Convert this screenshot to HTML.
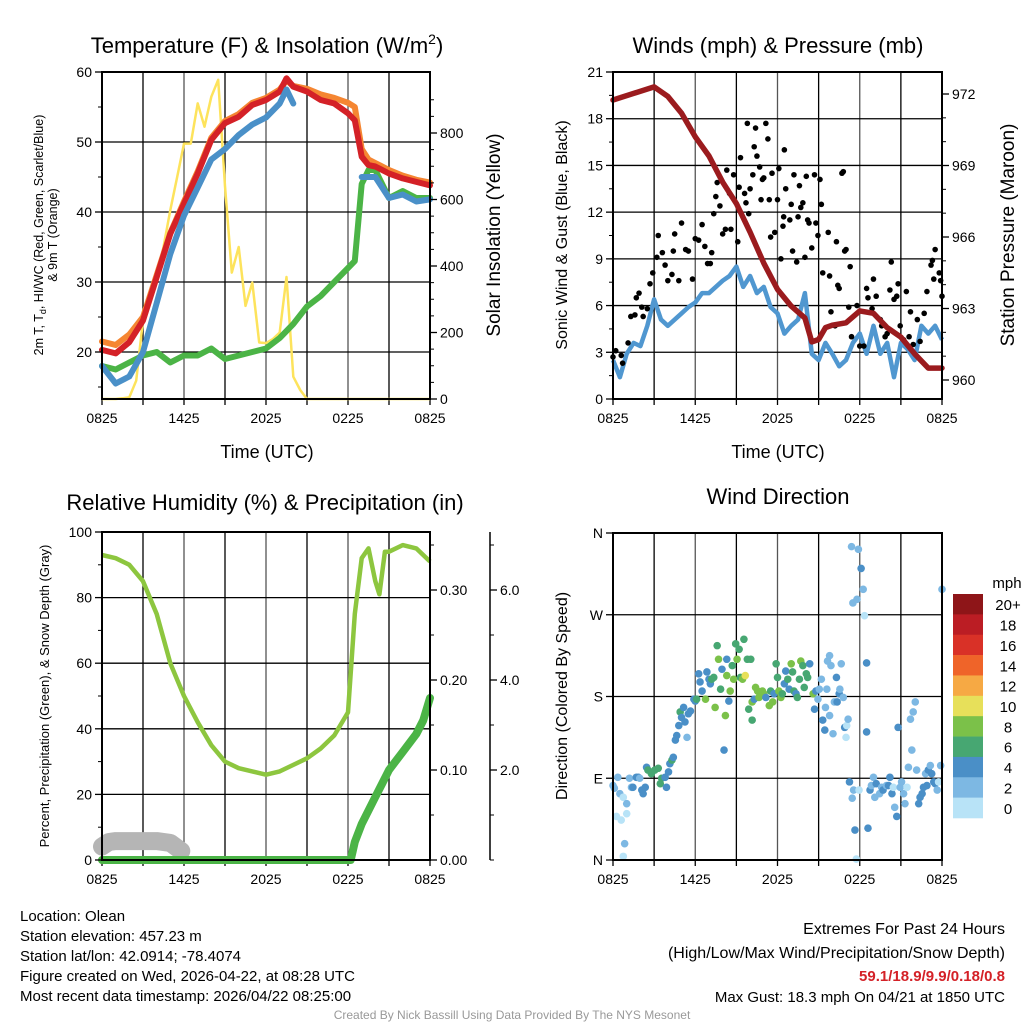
<!DOCTYPE html>
<html><head><meta charset="utf-8"><style>
body{margin:0;background:#fff;}
svg{display:block;font-family:"Liberation Sans",sans-serif;}
</style></head><body>
<svg id="c" width="1024" height="1024" viewBox="0 0 1024 1024" xmlns="http://www.w3.org/2000/svg">
<g id="layer"></g>
</svg>
<script>
// ---- data (hours since 0825 UTC) ----
const tHalf=[0,0.5,1,1.5,2,2.5,3,3.5,4,4.5,5,5.5,6,6.5,7,7.5,8,8.5,9,9.5,10,10.5,11,11.5,12,12.5,13,13.5,14,14.5,15,15.5,16,16.5,17,17.5,18,18.5,19,19.5,20,20.5,21,21.5,22,22.5,23,23.5,24];
const tHour=[0,1,2,3,4,5,6,7,8,9,10,11,12,13,13.5,14,15,16,17,18,18.5,19,19.5,20,21,22,23,24];
const tempRed=[20.3,19.8,21.4,24.5,30.7,36.9,41.2,45.5,50.3,52.7,53.6,55.3,56,57.2,59.1,57.9,57.2,56,55.5,54.1,53.1,47.9,46.7,46.5,45.5,44.8,44.3,43.8];
const tempOrange=[21.5,21,22.5,25,31,37,41.5,45.8,50.6,53,54,55.6,56.3,57.5,58.8,58,57.6,56.8,56.3,55.6,55,49,47.5,47,46,45.2,44.6,44.2];
const tempBlue=[18,15.5,16.5,20,27,34,39.5,43.5,47.5,49,51,52.5,53.5,55.5,57.5,55.5,null,null,null,null,null,45,45,45,42,42.5,41.5,41.8];
const tempGreen=[18,17.5,18.5,19.5,20,18.5,19.5,19.5,20.5,19,19.5,20,20.5,22,23,24,26.5,28,30,32,33,44,46,46,42,43,42,42];
const solar=[0,0,0,2,5,55,237,317,367,457,568,668,768,768,889,819,909,960,640,380,457,280,350,170,168,180,200,367,67,27,0,0,0,0,0,0,0,0,0,0,0,0,0,0,0,0,0,0,0];
const wind=[2.5,1.4,2.9,3.6,3.4,4.7,6.4,5.1,4.7,5.1,5.5,5.9,6.2,6.8,6.8,7.2,7.6,7.9,8.5,7.2,7.9,6.8,7.2,5.9,5.5,4.2,4.7,5.1,6.8,2.9,2.5,3.6,2.9,2.1,2.5,3.6,4.2,2.9,4.7,2.9,3.6,1.4,3.6,3.2,2.5,4.7,4.2,4.7,3.8];
const presT=[0,3,4,5,6,7,8,9,10,11,12,13,14,14.5,15,15.5,16,17,18,19,20,21,22,23,24];
const pres=[971.75,972.3,971.9,971.2,970.2,969.4,968.3,967.4,966.2,964.9,963.8,963.1,962.6,961.6,961.7,962.2,962.3,962.4,962.9,962.8,962.2,961.8,961.1,960.5,960.5];
const gustT=[0,0.2,0.6,0.7,1.1,1.3,1.6,1.7,1.9,2.1,2.2,2.5,2.7,2.9,3.2,3.3,3.6,3.8,4.0,4.3,4.4,4.5,4.8,5.0,5.3,5.5,5.8,6.0,6.25,6.5,6.7,6.9,7.1,7.2,7.35,7.5,7.6,7.8,8.0,8.2,8.3,8.5,8.6,8.8,9.1,9.2,9.3,9.6,9.7,9.8,9.9,10.0,10.2,10.3,10.4,10.5,10.7,10.8,10.9,11.0,11.15,11.3,11.4,11.5,11.6,11.8,12.0,12.1,12.25,12.4,12.45,12.5,12.6,12.9,13.0,13.1,13.2,13.4,13.5,13.6,13.7,13.85,14.0,14.1,14.2,14.3,14.5,14.7,14.8,14.95,15.1,15.2,15.3,15.7,15.8,15.9,16.2,16.3,16.4,16.5,16.7,16.8,16.9,17.0,17.2,17.3,17.4,17.8,18.0,18.3,18.5,18.6,18.9,19.0,19.2,19.5,19.6,19.85,20.0,20.2,20.3,20.5,20.7,20.8,20.95,21.2,21.4,21.6,21.7,21.9,22.2,22.4,22.7,22.9,23.2,23.3,23.4,23.5,23.8,23.9,24.0];
const gustV=[2.7,3.1,2.8,2.3,3.6,5.3,5.4,6.5,6.8,5.9,5.3,5.8,7.4,8.1,9.1,10.5,9.4,8.6,7.6,8,9.5,10.6,7.6,11.3,9.6,9.5,7.7,10.3,10.2,11.2,9.8,8.7,8.7,9.4,11.9,13,13.9,12.4,10.6,10.9,14.7,13.2,10.9,14.4,10.1,13.6,15.5,13.2,12.6,17.7,11.9,13.5,14.4,16.2,17.4,15.6,14.9,12.8,14.1,14.2,17.7,16.7,12.8,10.4,14.5,10.7,12.8,14.8,9,11.1,11.7,16,13.5,11.5,12.5,9.5,14.4,8.8,11.7,13.7,12.3,12.6,9.1,14.3,11.5,11.3,9.7,14.4,11.3,10.5,14.1,12.5,8.1,10.7,7.9,5.6,4.7,10.1,7.3,7.1,14.5,14.6,9.5,9.6,5.9,8.5,4,6,3.4,3.4,7.1,6.5,5.8,7.7,6.6,5.1,4.7,4,4.2,7,8.8,6.4,6.6,7.4,4.7,3.8,6.9,4,5.6,3.5,5.1,3.7,5.5,6.9,8.6,8.9,7.7,9.6,8.1,7.6,6.6];
const rhT=[0,1,2,3,4,5,6,7,8,9,10,11,12,13,14,15,16,17,18,18.5,19,19.5,20,20.3,20.7,21,22,23,24];
const rh=[93,92,90,85,75,60,50,42,35,30,28,27,26,27,29,31,34,38,45,75,92,95,85,81,94,94,96,95,91];
const precipT=[0,18.2,18.5,19,19.5,20,20.5,21,21.5,22,22.5,23,23.5,24];
const precip=[0,0,0.02,0.04,0.055,0.07,0.085,0.10,0.11,0.12,0.13,0.14,0.155,0.18];
const snowT=[0,0.5,1,2,3,4,5,5.8];
const snowV=[0.3,0.4,0.42,0.42,0.42,0.42,0.38,0.2];
const dirT=[0,0.1,0.35,0.5,0.75,1,0.25,0.6,1,0.85,0.75,1.2,1.35,1.45,1.7,1.85,1.95,2.1,2.2,2.35,2.45,2.55,2.8,3.05,3.3,3.45,3.55,3.8,3.9,4.05,4.15,4.3,4.4,4.55,4.65,4.8,4.9,5.0,5.15,5.25,5.4,5.5,5.65,5.9,6.0,6.1,6.25,6.35,6.5,6.75,6.85,7.0,7.1,7.2,7.35,7.45,7.6,7.7,7.85,7.95,8.1,8.2,8.3,8.3,8.45,8.55,8.7,8.8,8.95,9.05,9.2,9.3,9.45,9.55,9.65,9.8,9.9,10.05,10.15,10.15,10.3,10.4,10.55,10.65,10.9,11.0,11.15,11.4,11.5,11.65,11.75,11.9,12.0,12.1,12.25,12.35,12.5,12.6,12.75,12.85,13.0,13.1,13.2,13.35,13.45,13.6,13.7,13.85,13.95,14.1,14.2,14.35,14.6,14.7,14.8,14.95,15.05,15.2,15.3,15.45,15.5,15.6,15.65,15.8,15.9,16.05,16.15,16.3,16.35,16.5,16.55,16.65,16.8,16.9,17.0,17.05,17.15,17.25,17.4,17.5,17.45,17.65,17.55,17.75,17.8,17.95,18.1,17.9,18.25,18.35,18.5,18.5,18.6,18.75,18.85,19.0,19.1,19.2,19.45,19.6,19.7,19.95,20.1,20.2,20.35,20.45,20.55,20.7,20.8,20.95,21.05,21.2,21.3,21.45,21.55,21.7,21.8,21.9,22.05,22.15,22.3,22.4,22.55,22.65,22.8,22.9,23.0,23.15,23.25,23.4,23.5,23.65,23.75,23.9,24.0,15.8,17.25];
const dirD=[82,79,91,73,69,62,48,44,51,18,4,90,80,80,91,91,90,77,73,80,102,99,95,99,101,84,90,91,80,97,106,110,113,132,137,148,163,157,168,152,135,161,164,177,175,177,205,196,186,177,207,199,194,199,201,168,236,221,188,210,121,159,221,203,175,186,214,199,238,221,232,201,199,243,203,221,166,221,174,154,177,190,186,179,186,183,179,170,186,174,183,216,201,186,179,183,194,208,199,188,216,207,186,183,179,199,219,214,190,205,201,216,183,166,186,177,188,199,154,143,168,188,219,225,214,139,174,201,174,183,188,216,179,146,135,148,155,86,345,283,68,33,77,1,287,77,321,342,298,269,217,141,35,77,82,91,69,84,73,80,77,82,82,91,73,80,58,48,146,80,86,73,62,80,102,155,121,163,174,99,62,69,73,80,95,82,99,104,95,86,84,77,86,104,298,159];
const dirS=[3,3,3,3,1,3,1,1,1,3,1,3,3,5,5,5,3,5,5,5,5,7,7,7,7,7,7,5,5,5,5,7,5,5,5,5,7,5,5,5,3,5,5,5,5,7,5,5,5,9,5,5,5,7,7,9,7,9,7,5,5,9,5,9,5,9,7,9,7,9,7,7,9,7,11,7,7,7,9,7,5,9,9,9,9,9,5,9,7,9,5,7,7,9,9,7,5,5,7,5,9,7,7,5,7,7,9,7,7,7,7,5,9,5,5,3,3,3,5,5,3,3,3,3,3,3,3,5,5,5,3,3,3,5,1,1,3,5,3,3,3,5,3,1,3,1,5,3,3,1,5,5,5,5,3,3,3,5,3,3,5,3,5,5,5,1,3,5,5,3,3,3,3,1,3,3,3,3,3,3,5,5,5,5,3,5,5,3,5,5,5,3,1];
const cbLabels=["20+","18","16","14","12","10","8","6","4","2","0"];
const cbColors=["#8e1518","#bb1d24","#d93127","#ef6429","#f6a944","#e7e05a","#7bc149","#47a772","#4a8fc7","#7db8e3","#b8e3f7"];

// ---- helpers ----
const NS="http://www.w3.org/2000/svg";
const root=document.getElementById('layer');
function mk(tag,attrs,parent){const e=document.createElementNS(NS,tag);for(const k in attrs)e.setAttribute(k,attrs[k]);(parent||root).appendChild(e);return e;}
function txt(s,x,y,size,anchor,extra){const e=mk('text',Object.assign({x:x,y:y,'font-size':size,'text-anchor':anchor||'middle',fill:'#000'},extra||{}));e.textContent=s;return e;}
function lin(d0,d1,r0,r1){return v=>r0+(v-d0)/(d1-d0)*(r1-r0);}
function pathOf(xs,ys,fx,fy){let d='',pen=false;for(let i=0;i<xs.length;i++){if(ys[i]===null||ys[i]===undefined){pen=false;continue;}d+=(pen?'L':'M')+fx(xs[i]).toFixed(1)+' '+fy(ys[i]).toFixed(1);pen=true;}return d;}

const timeLabels=["0825","1425","2025","0225","0825"];
function panelFrame(x0,x1,y0,y1,hGrid,name){
  const g=mk('g',{});
  
  
  const fx=lin(0,24,x0,x1);
  for(let h=3;h<24;h+=3){mk('line',{x1:fx(h),x2:fx(h),y1:y0,y2:y1,stroke:(h%6==0)?'#555':'#000','stroke-width':1.3},g);}
  hGrid.forEach(y=>mk('line',{x1:x0,x2:x1,y1:y,y2:y,stroke:'#000','stroke-width':1.3},g));
  for(let h=0;h<=24;h+=3){mk('line',{x1:fx(h),x2:fx(h),y1:y1,y2:y1+6,stroke:'#000','stroke-width':1.3},g);}
  for(let i=0;i<5;i++){const l=txt(timeLabels[i],fx(i*6),y1+24,14);}
  return fx;
}
function frame(x0,x1,y0,y1,name){const r=mk('rect',{x:x0,y:y0,width:x1-x0,height:y1-y0,fill:'none',stroke:'#000','stroke-width':2});}
function yTicks(x,vals,fy,labels,side,minorVals){
  vals.forEach((v,i)=>{const y=fy(v);mk('line',{x1:x,x2:x+(side<0?-7:7),y1:y,y2:y,stroke:'#000','stroke-width':1.3});
    const l=txt(labels[i],x+(side<0?-10:10),y+5,14,side<0?'end':'start');});
  (minorVals||[]).forEach(v=>{const y=fy(v);mk('line',{x1:x,x2:x+(side<0?-4:4),y1:y,y2:y,stroke:'#000','stroke-width':1});});
}
function rotText(s,x,y,size,name){const e=txt(s,x,y,size,'middle',{transform:'rotate(-90 '+x+' '+y+')'});return e;}

// ===== Panel 1: Temperature =====
(function(){
  const X0=102,X1=430,Y0=72,Y1=399;
  const fy=lin(60,20,72,352), fs=lin(0,800,399,133);
  const fx=panelFrame(X0,X1,Y0,Y1,[fy(50),fy(40),fy(30),fy(20)],'temp');
  const series=[[tempGreen,'#4bb446','dewpoint-line'],[tempOrange,'#f58632','temp-9m-line'],[tempRed,'#d42127','temp-2m-line'],[tempBlue,'#4a90c8','heat-index-line']];
  const ps=mk('path',{d:pathOf(tHalf,solar,fx,fs),fill:'none',stroke:'#fde35c','stroke-width':2.5,'stroke-linejoin':'round'});
  
  series.forEach(s=>{const p=mk('path',{d:pathOf(tHour,s[0],fx,fy),fill:'none',stroke:s[1],'stroke-width':6,'stroke-linejoin':'round','stroke-linecap':'round'});});
  frame(X0,X1,Y0,Y1,'temp');
  yTicks(X0,[60,50,40,30,20],fy,["60","50","40","30","20"],-1,[55,45,35,25,15]);
  yTicks(X1,[0,200,400,600,800],fs,["0","200","400","600","800"],1,[50,100,150,250,300,350,450,500,550,650,700,750,850,900]);
  let t=txt('',267,53,22);t.innerHTML='Temperature (F) &amp; Insolation (W/m<tspan font-size="14" dy="-9">2</tspan><tspan dy="9">)</tspan>';
  t=txt('Time (UTC)',267,458,18);
  t=txt('',43,235,12.5,'middle',{transform:'rotate(-90 43 235)'});t.innerHTML='2m T, T<tspan font-size="9" dy="3">d</tspan><tspan dy="-3">, HI/WC (Red, Green, Scarlet/Blue)</tspan>';
  rotText('& 9m T (Orange)',57,235,12.5,'temp-y-axis-title-2');
  rotText('Solar Insolation (Yellow)',500,235,19,'solar-y-axis-title');
})();

// ===== Panel 2: Winds =====
(function(){
  const X0=613,X1=942,Y0=72,Y1=399;
  const fy=lin(0,21,399,72), fp=lin(960,972,380,94);
  const fx=panelFrame(X0,X1,Y0,Y1,[fy(18),fy(15),fy(12),fy(9),fy(6),fy(3)],'wind');
  const pw=mk('path',{d:pathOf(tHalf,wind,fx,fy),fill:'none',stroke:'#5097d0','stroke-width':4.5,'stroke-linejoin':'round'});
  
  const g=mk('g',{});
  const n=Math.min(gustT.length,gustV.length);
  for(let i=0;i<n;i++){mk('circle',{cx:fx(Math.min(gustT[i],24)),cy:fy(gustV[i]),r:2.8,fill:'#000'},g);}
  const pp=mk('path',{d:pathOf(presT,pres,fx,fp),fill:'none',stroke:'#9b1b1e','stroke-width':5.5,'stroke-linejoin':'round','stroke-linecap':'round'});
  
  frame(X0,X1,Y0,Y1,'wind');
  yTicks(X0,[0,3,6,9,12,15,18,21],fy,["0","3","6","9","12","15","18","21"],-1,[1.5,4.5,7.5,10.5,13.5,16.5,19.5]);
  yTicks(X1,[960,963,966,969,972],fp,["960","963","966","969","972"],1,[961,962,964,965,967,968,970,971]);
  let t=txt('Winds (mph) & Pressure (mb)',778,53,22);
  t=txt('Time (UTC)',778,458,18);
  rotText('Sonic Wind & Gust (Blue, Black)',567,235,16,'wind-y-axis-title');
  rotText('Station Pressure (Maroon)',1014,235,19,'pressure-y-axis-title');
})();

// ===== Panel 3: RH =====
(function(){
  const X0=102,X1=430,Y0=532,Y1=860;
  const fy=lin(0,100,860,532), fpr=lin(0,0.3,860,590), fsn=lin(0,2,860,770);
  const fx=panelFrame(X0,X1,Y0,Y1,[fy(80),fy(60),fy(40),fy(20)],'rh');
  const ps=mk('path',{d:pathOf(snowT,snowV,fx,fsn),fill:'none',stroke:'#b5b5b5','stroke-width':18,'stroke-linejoin':'round','stroke-linecap':'round'});
  
  const pr=mk('path',{d:pathOf(precipT,precip,fx,fpr),fill:'none',stroke:'#4bb446','stroke-width':8,'stroke-linejoin':'round','stroke-linecap':'round'});
  
  const ph=mk('path',{d:pathOf(rhT,rh,fx,fy),fill:'none',stroke:'#8dc63f','stroke-width':4.5,'stroke-linejoin':'round'});
  
  frame(X0,X1,Y0,Y1,'rh');
  yTicks(X0,[0,20,40,60,80,100],fy,["0","20","40","60","80","100"],-1,[10,30,50,70,90]);
  yTicks(X1,[0,0.1,0.2,0.3],fpr,["0.00","0.10","0.20","0.30"],1,[0.05,0.15,0.25,0.35]);
  mk('line',{x1:490,x2:490,y1:532,y2:860,stroke:'#000','stroke-width':1.5});
  yTicks(490,[2,4,6],fsn,["2.0","4.0","6.0"],1,[0,1,3,5,7]);
  let t=txt('Relative Humidity (%) & Precipitation (in)',265,510,22);
  rotText('Percent, Precipitation (Green), & Snow Depth (Gray)',49,696,13,'rh-y-axis-title');
})();

// ===== Panel 4: Wind direction =====
(function(){
  const X0=613,X1=942,Y0=533,Y1=860;
  const fy=lin(0,360,860,533);
  const fx=panelFrame(X0,X1,Y0,Y1,[fy(90),fy(180),fy(270)],'dir');
  function col(s){if(s===undefined)s=3;const idx=Math.min(10,Math.floor(s/2));return cbColors[10-idx];}
  const g=mk('g',{});
  const n=Math.min(dirT.length,dirD.length);
  for(let i=0;i<n;i++){mk('circle',{cx:fx(dirT[i]),cy:fy(dirD[i]),r:3.8,fill:col(dirS[i])},g);}
  frame(X0,X1,Y0,Y1,'dir');
  yTicks(X0,[0,90,180,270,360],fy,["N","E","S","W","N"],-1,[]);
  let t=txt('Wind Direction',778,504,22);
  rotText('Direction (Colored By Speed)',567,696,16,'direction-y-axis-title');
  const cb=mk('g',{});
  const h=(818-594)/11;
  cbColors.forEach((c,i)=>{mk('rect',{x:953,y:594+i*h,width:30,height:h+0.3,fill:c},cb);
    const l=txt(cbLabels[i],1008,594+i*h+h/2+6,15,'middle');});
  t=txt('mph',1007,588,15);
})();

// ===== Footer =====
const leftLines=["Location: Olean","Station elevation: 457.23 m","Station lat/lon: 42.0914; -78.4074","Figure created on Wed, 2026-04-22, at 08:28 UTC","Most recent data timestamp: 2026/04/22 08:25:00"];
leftLines.forEach((s,i)=>{const l=txt(s,20,921+i*20,15,'start');});
let f=txt('Extremes For Past 24 Hours',1005,934,16,'end');
f=txt('(High/Low/Max Wind/Precipitation/Snow Depth)',1005,958,16,'end');
f=txt('59.1/18.9/9.9/0.18/0.8',1005,981,15,'end',{fill:'#d42127','font-weight':'bold'});
f=txt('Max Gust: 18.3 mph On 04/21 at 1850 UTC',1005,1002,15,'end');
f=txt('Created By Nick Bassill Using Data Provided By The NYS Mesonet',512,1019,12,'middle',{fill:'#999'});
</script>
</body></html>
